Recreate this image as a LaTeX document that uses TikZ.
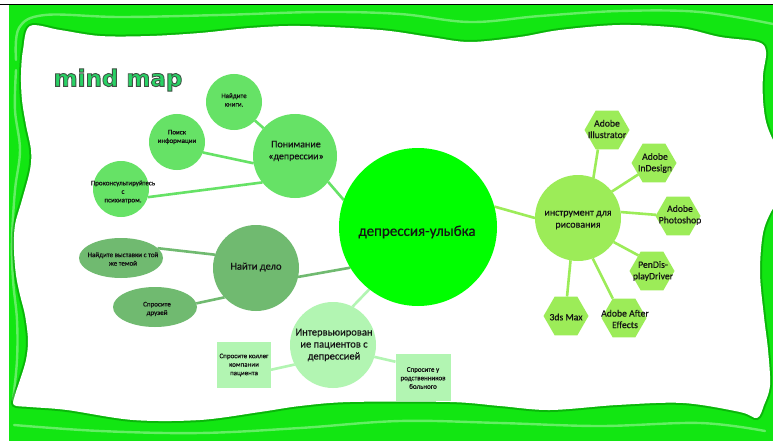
\documentclass[tikz,border=0pt]{standalone}
\usepackage{fontspec}
\setmainfont{Carlito}
\newfontfamily\titlefont{DejaVu Sans}
\newfontfamily\heavyfont[FakeBold=0.9]{Carlito}
\newfontfamily\semifont[FakeBold=0.5]{Carlito}
\usetikzlibrary{shapes.geometric}
\pgfdeclarelayer{framelayer}
\pgfdeclarelayer{linklayer}
\pgfsetlayers{framelayer,linklayer,main}
\definecolor{framegreen}{RGB}{18,230,18}
\definecolor{rimgreen}{RGB}{0,110,0}
\definecolor{coregreen}{RGB}{0,255,0}
\definecolor{pgreen}{RGB}{102,226,102}
\definecolor{ngreen}{RGB}{112,186,112}
\definecolor{igreen}{RGB}{178,245,178}
\definecolor{tgreen}{RGB}{156,236,88}
\definecolor{titlegreen}{RGB}{40,210,100}
\definecolor{txt}{RGB}{20,20,20}
\newcommand{\outlinedtext}[1]{\special{pdf:literal direct 2 Tr 0.9 w 0.25 0.32 0.27 RG}#1\special{pdf:literal direct 0 Tr}}
\begin{document}
\begin{tikzpicture}[x=1pt,y=-1pt,
  bubble/.style={circle,inner sep=0pt,outer sep=0pt,minimum size=#1},
  oval/.style={ellipse,inner sep=0pt,outer sep=0pt,minimum width=84pt,minimum height=40pt,fill=ngreen},
  sq/.style={rectangle,inner sep=0pt,outer sep=0pt,fill=igreen},
  hexa/.style={regular polygon,regular polygon sides=6,minimum size=45pt,inner sep=0pt,outer sep=0pt,fill=tgreen},
  lbl/.style={inner sep=0pt,align=center,text=txt},
  tiny/.style={lbl,font=\heavyfont\fontsize{7}{8.5}\selectfont},
  mid/.style={lbl,font=\semifont\fontsize{10}{12}\selectfont},
  hextxt/.style={lbl,font=\semifont\fontsize{9.7}{11.5}\selectfont},
  link/.style={line width=2.6pt},
  highlight/.style={white,opacity=0.35,line width=2.4pt,line cap=round}
]
\useasboundingbox (0,0) rectangle (773,441);
\begin{pgfonlayer}{framelayer}
  \fill[white] (0,0) rectangle (773,441);
  \fill[framegreen] (9,5.5) rectangle (773,441);
  \draw[highlight] plot[smooth,tension=0.6] coordinates {(16,60) (19,28) (45,15) (120,17) (220,15) (320,12) (400,14) (470,22) (540,16) (620,11) (700,12) (773,24)};
  \draw[highlight] plot[smooth,tension=0.6] coordinates {(16,70) (15,110) (20,150) (15,190) (12,240) (13,280) (17,320) (17,360) (13,400)};
  \draw[highlight] plot[smooth,tension=0.6] coordinates {(14,425) (100,431) (200,433) (300,428) (400,421) (500,423) (600,426) (700,423) (765,431)};
  \draw[rimgreen,opacity=0.4,line width=4pt] plot[smooth cycle,tension=0.55] coordinates {
    (30,26) (60,30) (100,36) (150,36) (200,33) (250,28) (300,26) (380,30) (430,37) (470,42) (520,37) (560,30) (620,25) (680,28) (720,37) (758,42)
    (766,52) (763,75) (763,100) (766,122) (773,140) (780,150) (780,200) (772,210) (763,233) (760,273) (764,317) (768,350) (770,385) (764,405) (757,418)
    (740,412) (683,403) (617,405) (550,410) (500,406) (450,402) (350,402) (300,406) (260,412) (200,420) (133,420) (67,410) (30,407) (14,405)
    (15,395) (20,380) (26,360) (28,340) (25,315) (20,295) (16,275) (14,250) (15,225) (22,200) (30,170) (31,150) (26,125) (22,100) (21,75) (23,50)};
  \fill[white] plot[smooth cycle,tension=0.55] coordinates {
    (30,26) (60,30) (100,36) (150,36) (200,33) (250,28) (300,26) (380,30) (430,37) (470,42) (520,37) (560,30) (620,25) (680,28) (720,37) (758,42)
    (766,52) (763,75) (763,100) (766,122) (773,140) (780,150) (780,200) (772,210) (763,233) (760,273) (764,317) (768,350) (770,385) (764,405) (757,418)
    (740,412) (683,403) (617,405) (550,410) (500,406) (450,402) (350,402) (300,406) (260,412) (200,420) (133,420) (67,410) (30,407) (14,405)
    (15,395) (20,380) (26,360) (28,340) (25,315) (20,295) (16,275) (14,250) (15,225) (22,200) (30,170) (31,150) (26,125) (22,100) (21,75) (23,50)};
  \draw[black,line width=1pt] (0,5) -- (773,5);
\end{pgfonlayer}
% title
\node[font=\titlefont\bfseries\fontsize{23}{26}\selectfont,text=titlegreen] (title) at (118,80) {\outlinedtext{mind map}};
% central
\node[bubble=158pt,fill=coregreen] (C) at (418,227) {};
\node[lbl,font=\semifont\fontsize{15}{18}\selectfont] (Ct) at (417,232) {депрессия-улыбка};
% understanding cluster
\node[bubble=84pt,fill=pgreen] (P) at (295,156) {};
\node[mid] (Pt) at (296,151) {Понимание\\«депрессии»};
\node[bubble=56pt,fill=pgreen] (K) at (234,102) {};
\node[tiny] (Kt) at (234,100) {Найдите\\книги.};
\node[bubble=56pt,fill=pgreen] (S) at (177,142) {};
\node[tiny] (St) at (177,137) {Поиск\\информации};
\node[bubble=56pt,fill=pgreen] (R) at (121,189) {};
\node[tiny] (Rt) at (123,192) {Проконсультируйтесь\\с\\психиатром.};
% find work cluster
\node[bubble=86pt,fill=ngreen] (N) at (256,268) {};
\node[lbl,font=\semifont\fontsize{10.5}{12.5}\selectfont] (Nt) at (256,267) {Найти дело};
\node[oval] (V) at (121,258) {};
\node[tiny] (Vt) at (123,259) {Найдите выставки с той\\же темой};
\node[oval] (F) at (155,307) {};
\node[tiny] (Ft) at (157,309) {Спросите\\друзей};
% interview cluster
\node[bubble=86pt,fill=igreen] (I) at (333,345) {};
\node[lbl,font=\semifont\fontsize{10.5}{12}\selectfont] (It) at (334,345) {Интервьюирован\\ие пациентов с\\депрессией};
\node[sq,minimum width=54pt,minimum height=46pt] (Q) at (244,365) {};
\node[tiny] (Qt) at (244,365) {Спросите коллег\\компании\\пациента};
\node[sq,minimum width=55pt,minimum height=47pt] (U) at (423,377) {};
\node[tiny] (Ut) at (423,378) {Спросите у\\родственников\\больного};
% tools cluster
\node[bubble=86pt,fill=tgreen] (T) at (578,218) {};
\node[mid] (Tt) at (578,220) {инструмент для\\рисования};
\node[hexa] (H1) at (607,130) {};
\node[hextxt] (H1t) at (607,129) {Adobe\\Illustrator};
\node[hexa] (H2) at (654,163) {};
\node[hextxt] (H2t) at (655,163) {Adobe\\InDesign};
\node[hexa] (H3) at (678,216) {};
\node[hextxt] (H3t) at (680,215) {Adobe\\Photoshop};
\node[hexa] (H4) at (652,271) {};
\node[hextxt] (H4t) at (653,271) {PenDis-\\playDriver};
\node[hexa] (H5) at (624,318) {};
\node[hextxt] (H5t) at (625,319) {Adobe After\\Effects};
\node[hexa] (H6) at (566,316) {};
\node[hextxt] (H6t) at (566,317) {3ds Max};
% connectors
\begin{pgfonlayer}{linklayer}
  \draw[link,pgreen] (P.-38) -- (C.160);
  \draw[link,pgreen] (K) -- (P);
  \draw[link,pgreen] (S.-22) -- (P.190);
  \draw[link,pgreen] (R.-17) -- (P.219);
  \draw[link,ngreen] (N.-12) -- (C.211);
  \draw[link,ngreen] (V.15) -- (N.162);
  \draw[link,ngreen] (F.5) -- (N.223);
  \draw[link,igreen] (I.63) -- (C.232);
  \draw[link,igreen] (Q.-10) -- (I.207);
  \draw[link,igreen] (U.151) -- (I.-16);
  \draw[link,tgreen] (C.15) -- (T.180);
  \draw[link,tgreen] (T.69) -- (H1.245);
  \draw[link,tgreen] (T.38) -- (H2.216);
  \draw[link,tgreen] (T.8) -- (H3.177);
  \draw[link,tgreen] (T.-34) -- (H4.131);
  \draw[link,tgreen] (T.-70) -- (H5.120);
  \draw[link,tgreen] (T.-100) -- (H6.87);
\end{pgfonlayer}
\end{tikzpicture}
\end{document}
